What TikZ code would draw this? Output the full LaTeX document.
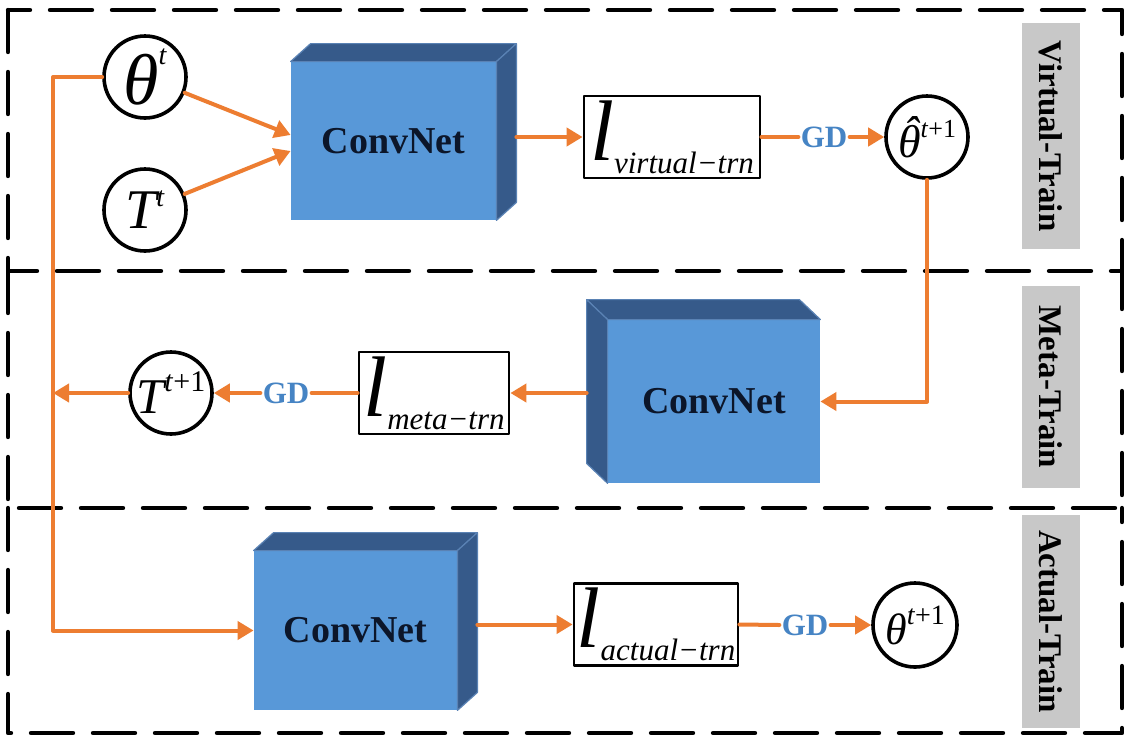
\documentclass[tikz,border=0pt]{standalone}
\usepackage{fontspec}
\setmainfont{Liberation Serif}
\usetikzlibrary{arrows.meta,calc}

\definecolor{flowOrange}{RGB}{237,125,49}
\definecolor{cnFront}{RGB}{88,152,216}
\definecolor{cnSide}{RGB}{54,90,138}
\definecolor{cnEdge}{RGB}{90,130,180}
\definecolor{cnText}{RGB}{12,22,42}
\definecolor{gdBlue}{RGB}{70,132,196}
\definecolor{tagGray}{RGB}{200,200,200}

% symbol with its superscript: base size, sup size, base, sup, raise
\newcommand{\symlabel}[5]{{\fontsize{#1}{#1}\selectfont\itshape #3}\raisebox{#5}{\fontsize{#2}{#2}\selectfont #4}}
% loss with its subscript
\newcommand{\losslabel}[1]{{\fontsize{43}{43}\selectfont\itshape l}\raisebox{-6.5pt}{\fontsize{15.5}{15.5}\selectfont\itshape #1}}
% theta with a hat
\newcommand{\thetahat}{\rlap{\hspace{2.8pt}\raisebox{4.5pt}{ˆ}}θ}
% top face and side face of a ConvNet block
\newcommand{\cubeface}[3]{%
  \fill[cnSide, draw=cnEdge, line width=0.6pt] (#1.north west) -- ++(#3) -- ($(#1.north east)+(#3)$) -- (#1.north east) -- cycle;
  \fill[cnSide, draw=cnEdge, line width=0.6pt] (#1.north #2) -- ++(#3) -- ($(#1.south #2)+(#3)$) -- (#1.south #2) -- cycle;
}

\tikzset{
  stagebox/.style={draw=black, line width=2.2pt, dash pattern=on 21pt off 10pt},
  stagetag/.style={fill=tagGray, rotate=-90, minimum height=29pt, inner sep=0pt, font=\fontsize{16.5}{16.5}\bfseries\selectfont},
  symnode/.style={circle, draw, fill=white, line width=1.8pt, minimum size=41pt, inner sep=0pt},
  lossbox/.style={draw, fill=white, line width=1.4pt, minimum height=41pt, inner sep=0pt},
  convfront/.style={fill=cnFront, inner sep=0pt, text=cnText, font=\fontsize{19}{19}\bfseries\selectfont},
  gdtext/.style={text=gdBlue, inner sep=1pt, font=\fontsize{15.5}{15.5}\bfseries\selectfont},
  flowline/.style={draw=flowOrange, line width=2pt},
  flow/.style={flowline, ->},
}

\begin{document}
\begin{tikzpicture}[x=0.5pt, y=-0.5pt, >={Triangle[length=8pt,width=9pt]}, line join=round, line cap=round]
	\useasboundingbox (0,0) rectangle (1135,745);
	\fill[white] (0,0) rectangle (1135,745);
	
	% [Frames - Layer 1]
	\draw[stagebox] (8,10) rectangle (1122,271);
	\draw[stagebox] (8,271) -- (8,508) -- (1122,508) -- (1122,271);
	\draw[stagebox] (8,508) -- (8,733) -- (1122,733) -- (1122,508);
	\node[stagetag, minimum width=113pt] (tagV) at (1051,136) {Virtual-Train};
	\node[stagetag, minimum width=101pt] (tagM) at (1051,387) {Meta-Train};
	\node[stagetag, minimum width=106.5pt] (tagA) at (1051,621.5) {Actual-Train};
	
	% [Virtual-Train - Layer 2]
	\node[symnode] (thT) at (145,77) {\symlabel{36}{14}{θ}{\textit{t}}{20pt}};
	\node[symnode] (TT) at (145,210) {\symlabel{28}{14}{T}{\textit{t}}{11pt}};
	\node[convfront, minimum width=102.5pt, minimum height=79pt] (cn1) at (393.5,141) {ConvNet};
	\cubeface{cn1}{east}{20,-18}
	\node[lossbox, minimum width=88pt] (lv) at (672,137) {\losslabel{virtual−trn}};
	\node[gdtext] (gd1) at (824,137) {GD};
	\node[symnode] (thH) at (927,137) {\symlabel{23}{13}{\thetahat}{\textit{t}+1}{10pt}};
	
	% [Meta-Train - Layer 2]
	\node[convfront, minimum width=106pt, minimum height=81.5pt] (cn2) at (714,401.5) {ConvNet};
	\cubeface{cn2}{west}{-21,-20}
	\node[lossbox, minimum width=75pt] (lm) at (434,393) {\losslabel{meta−trn}};
	\node[gdtext] (gd2) at (286,393) {GD};
	\node[symnode] (TT1) at (171,393) {\symlabel{25}{15}{T}{\textit{t}+1}{11pt}};
	
	% [Actual-Train - Layer 2]
	\node[convfront, minimum width=101.5pt, minimum height=79.5pt] (cn3) at (355.5,630.5) {ConvNet};
	\cubeface{cn3}{east}{20,-18}
	\node[lossbox, minimum width=82pt] (la) at (656,624.5) {\losslabel{actual−trn}};
	\node[gdtext] (gd3) at (805,625) {GD};
	\node[symnode, minimum size=42pt] (th1) at (915,625) {\symlabel{22}{14}{θ}{\textit{t}+1}{10pt}};
	
	% [Back corners and spine]
	\coordinate (c1r) at ($(cn1.north east)+(20,-18)$);
	\coordinate (c2l) at ($(cn2.north west)+(-21,-20)$);
	\coordinate (c3r) at ($(cn3.north east)+(20,-18)$);
	\coordinate (sp) at (53,0);
	
	% [Connectors - Layer 3]
	\draw[flow] (thT) -- ([yshift=3pt]cn1.west);
	\draw[flow] (TT) -- ([yshift=-5pt]cn1.west);
	\draw[flow] (c1r |- lv.west) -- (lv.west);
	\draw[flowline] (lv.east) -- (gd1.west);
	\draw[flow] (gd1.east) -- (thH.west);
	\draw[flow] (thH.south) |- (cn2.east);
	\draw[flow] (c2l |- lm.east) -- (lm.east);
	\draw[flowline] (lm.west) -- (gd2.east);
	\draw[flow] (gd2.west) -- (TT1.east);
	\draw[flow] (TT1.west) -- (TT1.west -| sp);
	\draw[flow] (thT.west) -- (thT.west -| sp) |- (cn3.west);
	\draw[flow] (c3r |- la.west) -- (la.west);
	\draw[flowline] (la.east) -- (gd3.west);
	\draw[flow] (gd3.east) -- (th1.west);
\end{tikzpicture}
\end{document}
